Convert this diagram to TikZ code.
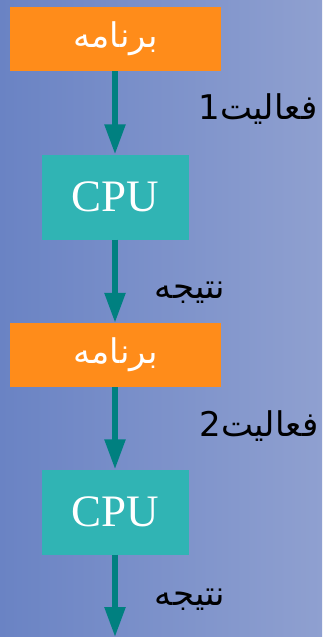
\documentclass[tikz,border=0pt]{standalone}
\usepackage{fontspec}
\usetikzlibrary{arrows.meta}
\TeXXeTstate=1
\newfontfamily\arabicfont[Script=Arabic]{DejaVu Sans}
\newfontfamily\cpufont{Liberation Serif}
\definecolor{bgleft}{RGB}{106,131,196}
\definecolor{bgright}{RGB}{143,160,208}
\definecolor{progorange}{RGB}{255,140,26}
\definecolor{cputeal}{RGB}{48,180,180}
\definecolor{arrteal}{RGB}{0,128,128}
\tikzset{
  progbox/.style={fill=progorange, draw=none, minimum width=211pt, minimum height=64pt, inner sep=0pt, text=white, font=\arabicfont\fontsize{34}{40}\selectfont},
  cpubox/.style={fill=cputeal, draw=none, minimum width=147pt, minimum height=85pt, inner sep=0pt, text=white, font=\cpufont\fontsize{45}{50}\selectfont},
  flow/.style={draw=arrteal, line width=5.5pt, -{Triangle[width=20pt,length=30pt]}},
  lbl/.style={text=black, inner sep=0pt, font=\arabicfont\fontsize{34}{40}\selectfont}
}
\begin{document}
\begin{tikzpicture}[x=1pt,y=-1pt]
\shade[left color=bgleft, right color=bgright] (0,0) rectangle (322,637);
\useasboundingbox (0,0) rectangle (322,637);
\node[progbox] (p1) at (115.5,39) {\beginR برنامه\endR};
\node[cpubox] (c1) at (115,197) {CPU};
\node[progbox] (p2) at (115.5,355) {\beginR برنامه\endR};
\node[cpubox] (c2) at (115,512) {CPU};
\coordinate (endpt) at (115,637);
\draw[flow] (p1.south -| c1.north) -- (c1.north);
\draw[flow] (c1.south) -- (c1.south |- p2.north);
\draw[flow] (p2.south -| c2.north) -- (c2.north);
\draw[flow] (c2.south) -- (endpt);
\node[lbl] (l1) at (258,109) {\beginR فعالیت1\endR};
\node[lbl] (l2) at (190,293) {\beginR نتیجه\endR};
\node[lbl] (l3) at (259,426) {\beginR فعالیت2\endR};
\node[lbl] (l4) at (190,600) {\beginR نتیجه\endR};
\end{tikzpicture}
\end{document}
